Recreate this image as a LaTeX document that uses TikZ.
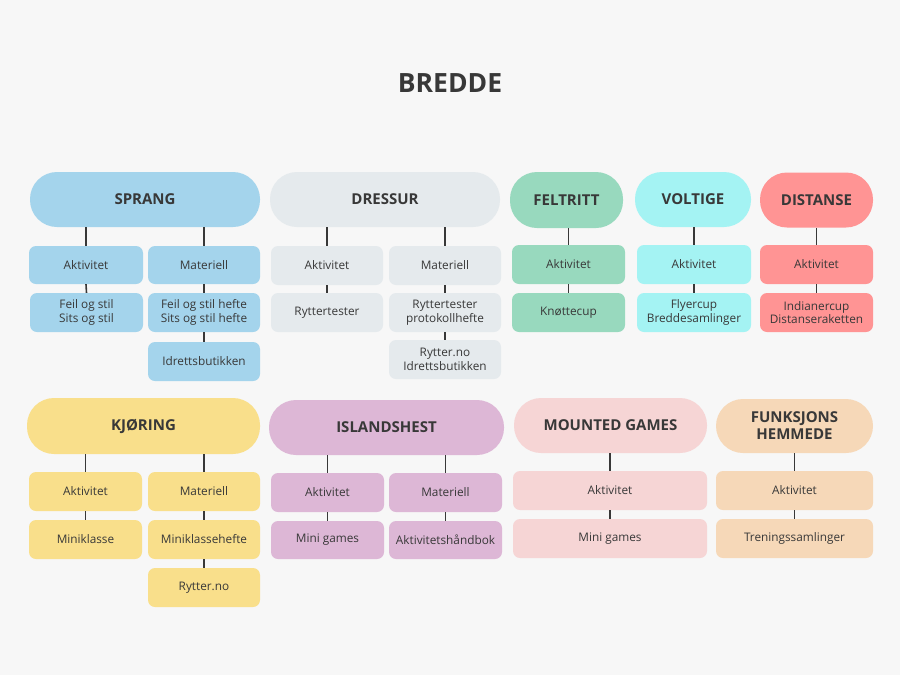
\documentclass[tikz,border=0pt]{standalone}
\usepackage{fontspec}
\setmainfont{Open Sans}
\definecolor{bg}{HTML}{F7F7F7}
\definecolor{txt}{HTML}{383838}
\definecolor{cblue}{HTML}{A4D4EC}
\definecolor{cgray}{HTML}{E5EAED}
\definecolor{cgreen}{HTML}{98D9BE}
\definecolor{ccyan}{HTML}{A4F3F3}
\definecolor{cred}{HTML}{FF9494}
\definecolor{cyellow}{HTML}{F9DF8B}
\definecolor{cpurple}{HTML}{DDB7D6}
\definecolor{cpink}{HTML}{F6D5D5}
\definecolor{cpeach}{HTML}{F6D8B8}
\tikzset{
  hdr/.style={fill=#1, draw=none, rounded corners=27pt, inner sep=0pt, align=center,
    text=txt, font=\fontsize{15}{17}\selectfont\bfseries},
  cbox/.style={fill=#1, draw=none, rounded corners=7pt, inner sep=0pt, align=center,
    text=txt, font=\fontsize{11.8}{13.6}\selectfont},
  conn/.style={draw=txt, line width=1.6pt},
}
\begin{document}
\begin{tikzpicture}[x=1pt,y=-1pt]
\fill[bg] (0,0) rectangle (900,675);
\useasboundingbox (0,0) rectangle (900,675);
\node[text=txt, font=\fontsize{26.5}{30}\selectfont\bfseries] (title) at (450,83) {BREDDE};

% SPRANG
\node[hdr=cblue, minimum width=230pt, minimum height=55pt] (sp) at (145,199.5) {SPRANG};
\node[cbox=cblue, minimum width=114pt, minimum height=38pt] (spa) at (86,265) {Aktivitet};
\node[cbox=cblue, minimum width=112pt, minimum height=38pt] (spm) at (204,265) {Materiell};
\node[cbox=cblue, minimum width=113pt, minimum height=39pt] (spa2) at (86.5,312.5) {Feil og stil\\Sits og stil};
\node[cbox=cblue, minimum width=112pt, minimum height=39pt] (spm2) at (204,312.5) {Feil og stil hefte\\Sits og stil hefte};
\node[cbox=cblue, minimum width=112pt, minimum height=39pt] (spm3) at (204,361.5) {Idrettsbutikken};

% DRESSUR
\node[hdr=cgray, minimum width=230pt, minimum height=55pt] (dr) at (385,199.5) {DRESSUR};
\node[cbox=cgray, minimum width=112pt, minimum height=39pt] (dra) at (327,265.5) {Aktivitet};
\node[cbox=cgray, minimum width=112pt, minimum height=39pt] (drm) at (445,265.5) {Materiell};
\node[cbox=cgray, minimum width=112pt, minimum height=39pt] (dra2) at (327,312.5) {Ryttertester};
\node[cbox=cgray, minimum width=112pt, minimum height=39pt] (drm2) at (445,312.5) {Ryttertester\\protokollhefte};
\node[cbox=cgray, minimum width=112pt, minimum height=39pt] (drm3) at (445,359.5) {Rytter.no\\Idrettsbutikken};

% FELTRITT
\node[hdr=cgreen, minimum width=113pt, minimum height=56pt] (fe) at (566.5,200) {FELTRITT};
\node[cbox=cgreen, minimum width=113pt, minimum height=39pt] (fea) at (568.5,264.5) {Aktivitet};
\node[cbox=cgreen, minimum width=113pt, minimum height=39pt] (fea2) at (568.5,312.5) {Knøttecup};

% VOLTIGE
\node[hdr=ccyan, minimum width=116pt, minimum height=55pt] (vo) at (693,199.5) {VOLTIGE};
\node[cbox=ccyan, minimum width=114pt, minimum height=39pt] (voa) at (694,264.5) {Aktivitet};
\node[cbox=ccyan, minimum width=114pt, minimum height=39pt] (voa2) at (694,312.5) {Flyercup\\Breddesamlinger};

% DISTANSE
\node[hdr=cred, minimum width=113pt, minimum height=55pt] (di) at (816.5,200) {DISTANSE};
\node[cbox=cred, minimum width=113pt, minimum height=39pt] (dia) at (816.5,264.5) {Aktivitet};
\node[cbox=cred, minimum width=113pt, minimum height=39pt] (dia2) at (816.5,312.5) {Indianercup\\Distanseraketten};

% KJORING
\node[hdr=cyellow, minimum width=233pt, minimum height=56pt] (kj) at (143.5,426) {KJØRING};
\node[cbox=cyellow, minimum width=113pt, minimum height=39pt] (kja) at (85.5,491.5) {Aktivitet};
\node[cbox=cyellow, minimum width=112pt, minimum height=39pt] (kjm) at (204,491.5) {Materiell};
\node[cbox=cyellow, minimum width=113pt, minimum height=39pt] (kja2) at (85.5,539.5) {Miniklasse};
\node[cbox=cyellow, minimum width=112pt, minimum height=39pt] (kjm2) at (204,539.5) {Miniklassehefte};
\node[cbox=cyellow, minimum width=112pt, minimum height=39pt] (kjm3) at (204,587.5) {Rytter.no};

% ISLANDSHEST
\node[hdr=cpurple, minimum width=235pt, minimum height=55pt] (is) at (386.5,427.5) {ISLANDSHEST};
\node[cbox=cpurple, minimum width=113pt, minimum height=39pt] (isa) at (327.5,492.5) {Aktivitet};
\node[cbox=cpurple, minimum width=113pt, minimum height=39pt] (ism) at (445.5,492.5) {Materiell};
\node[cbox=cpurple, minimum width=113pt, minimum height=38pt] (isa2) at (327.5,540) {Mini games};
\node[cbox=cpurple, minimum width=113pt, minimum height=38pt] (ism2) at (445.5,540) {Aktivitetshåndbok};

% MOUNTED GAMES
\node[hdr=cpink, minimum width=193pt, minimum height=55pt] (mg) at (610.5,425.5) {MOUNTED GAMES};
\node[cbox=cpink, minimum width=194pt, minimum height=39pt] (mga) at (610,490.5) {Aktivitet};
\node[cbox=cpink, minimum width=194pt, minimum height=39pt] (mga2) at (610,538.5) {Mini games};

% FUNKSJONSHEMMEDE
\node[hdr=cpeach, minimum width=157pt, minimum height=54pt] (fu) at (794.5,426) {FUNKSJONS\\HEMMEDE};
\node[cbox=cpeach, minimum width=157pt, minimum height=39pt] (fua) at (794.5,490.5) {Aktivitet};
\node[cbox=cpeach, minimum width=157pt, minimum height=39pt] (fua2) at (794.5,538.5) {Treningssamlinger};

% connectors
\foreach \h/\c in {sp/spa, sp/spm, dr/dra, dr/drm, fe/fea, vo/voa, di/dia,
                   kj/kja, kj/kjm, is/isa, is/ism, mg/mga, fu/fua}
  {\draw[conn] (\c.north) -- (\c.north |- \h.south);}
\foreach \a/\b in {spa/spa2, spm/spm2, spm2/spm3, dra/dra2, drm/drm2, drm2/drm3,
                   fea/fea2, voa/voa2, dia/dia2, kja/kja2, kjm/kjm2, kjm2/kjm3,
                   isa/isa2, ism/ism2, mga/mga2, fua/fua2}
  {\draw[conn] (\a.south) -- (\b.north);}
\end{tikzpicture}
\end{document}
